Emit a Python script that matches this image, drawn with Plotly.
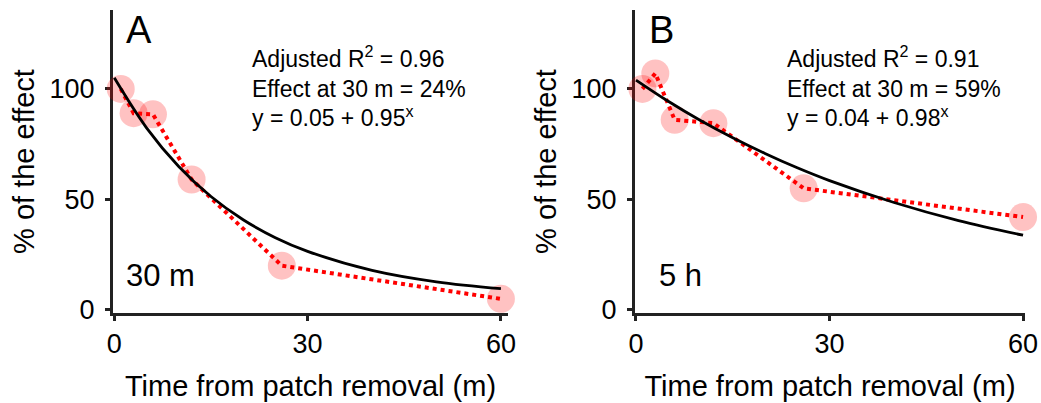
import plotly.graph_objects as go

# ---- data ----
time_a = [1, 3, 6, 12, 26, 60]
effect_a = [100, 89, 88.5, 59, 20, 5]
time_b = [1, 3, 6, 12, 26, 60]
effect_b = [100, 107, 86, 84.5, 55, 42]

fit_x = [0, 5, 10, 15, 20, 25, 30, 40, 50, 60]
fit_a = [105, 82.4, 64.9, 51.3, 40.8, 32.7, 26.5, 17.9, 12.7, 9.6]
fit_b = [104, 94.4, 85.7, 77.9, 70.8, 64.3, 58.5, 48.6, 40.4, 33.8]

panel_letters = ["A", "B"]
condition_labels = ["30 m", "5 h"]
stats_text = [
    "Adjusted R<sup>2</sup> = 0.96<br>Effect at 30 m = 24%<br>y = 0.05 + 0.95<sup>x</sup>",
    "Adjusted R<sup>2</sup> = 0.91<br>Effect at 30 m = 59%<br>y = 0.04 + 0.98<sup>x</sup>",
]
x_ticks = [0, 30, 60]
y_ticks = [0, 50, 100]
x_title = "Time from patch removal (m)"
y_title = "% of the effect"

FONT = "Liberation Sans, Arial, Helvetica, sans-serif"
W, H = 1041, 403

fig = go.Figure()

panels = [
    (time_a, effect_a, fit_a, "x", "y"),
    (time_b, effect_b, fit_b, "x2", "y2"),
]
for tx, ey, fy, xa, ya in panels:
    fig.add_trace(go.Scatter(
        x=tx, y=ey, mode="markers", xaxis=xa, yaxis=ya,
        marker=dict(size=28, color="rgba(255,0,0,0.24)", line=dict(width=0)),
        cliponaxis=False, showlegend=False, hoverinfo="skip"))
    fig.add_trace(go.Scatter(
        x=tx, y=ey, mode="lines", xaxis=xa, yaxis=ya,
        line=dict(color="#ff0000", width=4, dash="4px,4px"),
        cliponaxis=False, showlegend=False))
    fig.add_trace(go.Scatter(
        x=fit_x, y=fy, mode="lines", xaxis=xa, yaxis=ya,
        line=dict(color="black", width=2.8, shape="spline"),
        cliponaxis=False, showlegend=False))

ydom = [90 / H, 393 / H]
common_x = dict(
    showline=True, linecolor="#222", linewidth=3, ticks="outside", ticklen=5,
    tickwidth=3, tickcolor="#222", tickvals=x_ticks, showgrid=False, zeroline=False,
    tickfont=dict(size=27, color="black", family=FONT), layer="below traces",
    ticklabelstandoff=0, automargin=False,
    title=dict(text=x_title, font=dict(size=29, color="black", family=FONT), standoff=18),
)
common_y = dict(
    showline=True, linecolor="#222", linewidth=3, ticks="outside", ticklen=5,
    tickwidth=3, tickcolor="#222", tickvals=y_ticks, showgrid=False, zeroline=False,
    tickfont=dict(size=27, color="black", family=FONT), layer="below traces",
    ticklabelstandoff=5, automargin=False,
    range=[-1.4, 135.7], domain=ydom,
    title=dict(text=y_title, font=dict(size=29, color="black", family=FONT), standoff=7),
)

fig.update_layout(
    autosize=True,
    margin=dict(l=0, r=0, t=0, b=0, pad=0, autoexpand=False),
    paper_bgcolor="white", plot_bgcolor="white",
    font=dict(family=FONT, color="black"),
    xaxis=dict(common_x, domain=[113 / W, 508 / W], range=[-0.2, 61.1], anchor="y"),
    yaxis=dict(common_y, anchor="x"),
    xaxis2=dict(common_x, domain=[635 / W, 1025 / W], range=[-0.15, 60.3], anchor="y2"),
    yaxis2=dict(common_y, anchor="x2"),
)

letter_x = [124, 647]
stats_x = [250, 785]
cond_x = [124, 657]
for i in range(2):
    fig.add_annotation(
        xref="paper", yref="paper", x=letter_x[i] / W, y=1 - 7 / H,
        xanchor="left", yanchor="top", showarrow=False, text=panel_letters[i],
        font=dict(size=38, color="black", family=FONT))
    fig.add_annotation(
        xref="paper", yref="paper", x=stats_x[i] / W, y=1 - 40 / H,
        xanchor="left", yanchor="top", showarrow=False, text=stats_text[i], align="left",
        font=dict(size=23, color="black", family=FONT))
    fig.add_annotation(
        xref="paper", yref="paper", x=cond_x[i] / W, y=1 - 295 / H,
        xanchor="left", yanchor="bottom", showarrow=False, text=condition_labels[i],
        font=dict(size=31, color="black", family=FONT))

fig.write_html(
    "out.html",
    config={"displayModeBar": False},
    default_width=f"{W}px",
    default_height=f"{H}px; position:absolute; left:0; top:0",
)
